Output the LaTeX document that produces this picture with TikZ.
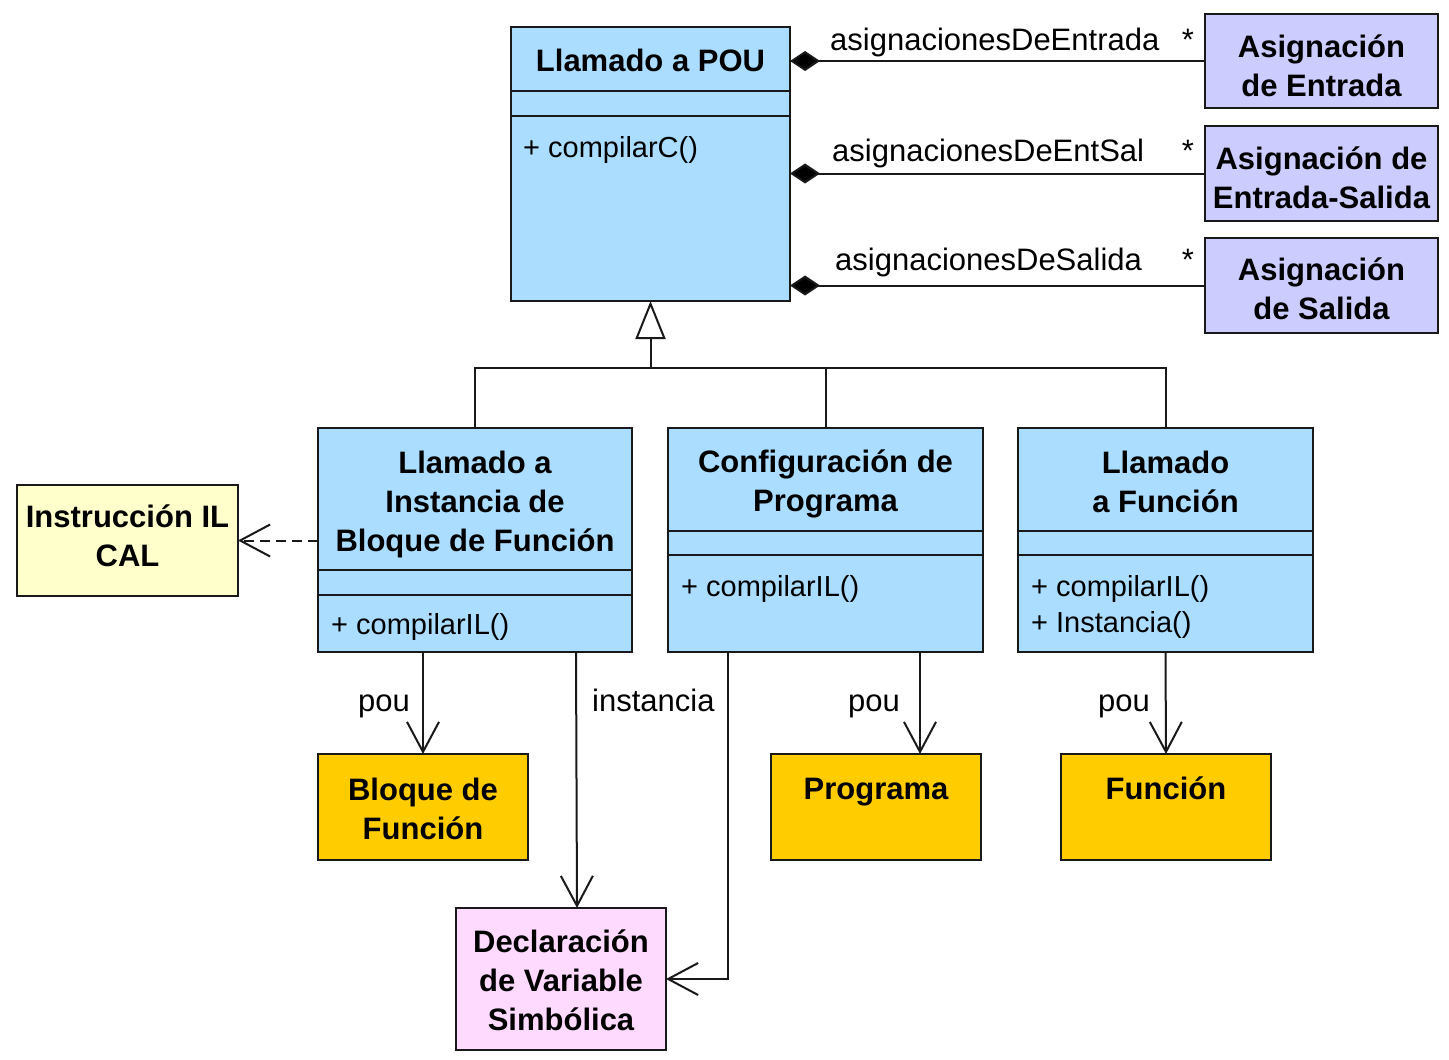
\documentclass[tikz,border=0pt]{standalone}
\usepackage{fontspec}
\setmainfont{Liberation Sans}
\usetikzlibrary{arrows.meta}
\definecolor{clsblue}{RGB}{170,221,255}
\definecolor{asgpurple}{RGB}{204,204,255}
\definecolor{ilyellow}{RGB}{255,255,204}
\definecolor{pouorange}{RGB}{255,204,0}
\definecolor{declpink}{RGB}{255,218,255}
\definecolor{edge}{RGB}{25,25,25}
\begin{document}
\begin{tikzpicture}[x=1pt,y=-1pt,
  box/.style={draw=edge, line width=2pt, inner sep=0pt, outer sep=0pt, anchor=north west},
  cls/.style={box, fill=clsblue},
  asg/.style={box, fill=asgpurple},
  ttl/.style={font=\fontsize{31}{39}\selectfont\bfseries, align=center, inner sep=0pt},
  lbl/.style={font=\fontsize{31}{37}\selectfont, inner sep=0pt, anchor=base west},
  mth/.style={font=\fontsize{29}{36}\selectfont, inner sep=0pt, anchor=base west},
  conn/.style={draw=edge, line width=2pt},
  comp/.style={conn, {Diamond[length=30pt,width=20pt,fill=black]}-},
  arr/.style={conn, -{Straight Barb[length=30pt,width=32pt]}},
  dep/.style={arr, dash pattern=on 10pt off 6pt},
  gen/.style={conn, -{Triangle[length=38pt,width=30pt,fill=white]}},
]
\useasboundingbox (0,0) rectangle (1449,1060);

% ---------- boxes ----------
\node[cls, minimum width=279pt, minimum height=274pt] (pou) at (511,27) {};
\node[asg, minimum width=233pt, minimum height=94pt] (ae) at (1205,14) {};
\node[asg, minimum width=233pt, minimum height=95pt] (aes) at (1205,126) {};
\node[asg, minimum width=233pt, minimum height=95pt] (as) at (1205,238) {};
\node[cls, minimum width=314pt, minimum height=224pt] (c1) at (318,428) {};
\node[cls, minimum width=315pt, minimum height=224pt] (c2) at (668,428) {};
\node[cls, minimum width=295pt, minimum height=224pt] (c3) at (1018,428) {};
\node[box, fill=ilyellow, minimum width=221pt, minimum height=111pt] (il) at (17,485) {};
\node[box, fill=pouorange, minimum width=210pt, minimum height=106pt] (bf) at (318,754) {};
\node[box, fill=pouorange, minimum width=210pt, minimum height=106pt] (prog) at (771,754) {};
\node[box, fill=pouorange, minimum width=210pt, minimum height=106pt] (fun) at (1061,754) {};
\node[box, fill=declpink, minimum width=210pt, minimum height=142pt] (decl) at (456,908) {};

% ---------- compartments ----------
\draw[conn] ([yshift=-64pt]pou.north west) -- ([yshift=-64pt]pou.north east);
\draw[conn] ([yshift=-89pt]pou.north west) -- ([yshift=-89pt]pou.north east);
\draw[conn] ([yshift=-142pt]c1.north west) -- ([yshift=-142pt]c1.north east);
\draw[conn] ([yshift=-167pt]c1.north west) -- ([yshift=-167pt]c1.north east);
\draw[conn] ([yshift=-103pt]c2.north west) -- ([yshift=-103pt]c2.north east);
\draw[conn] ([yshift=-127pt]c2.north west) -- ([yshift=-127pt]c2.north east);
\draw[conn] ([yshift=-103pt]c3.north west) -- ([yshift=-103pt]c3.north east);
\draw[conn] ([yshift=-127pt]c3.north west) -- ([yshift=-127pt]c3.north east);

% ---------- texts ----------
\node[ttl] (tpou) at (650.5,60.5) {Llamado a POU};
\node[mth] (mpou) at (523,157) {+ compilarC()};
\node[ttl] (tae) at (1321.5,66) {Asignación\\de Entrada};
\node[ttl] (taes) at (1321.5,177.5) {Asignación de\\Entrada-Salida};
\node[ttl] (tas) at (1321.5,289) {Asignación\\de Salida};
\node[ttl] (tc1) at (475,504.5) {Llamado a\\Instancia de\\Bloque de Función};
\node[mth] (mc1) at (331,634) {+ compilarIL()};
\node[ttl] (tc2) at (825.5,483.5) {Configuración de\\Programa};
\node[mth] (mc2) at (681,596) {+ compilarIL()};
\node[ttl] (tc3) at (1165.5,482) {Llamado\\a Función};
\node[mth] (mc3a) at (1031,596) {+ compilarIL()};
\node[mth] (mc3b) at (1031,632) {+ Instancia()};
\node[ttl] (til) at (127.5,536) {Instrucción IL\\CAL};
\node[ttl] (tbf) at (423,808.5) {Bloque de\\Función};
\node[ttl] (tprog) at (876,792) {Programa};
\node[ttl] (tfun) at (1166,788.5) {Función};
\node[ttl] (tdecl) at (561,980.5) {Declaración\\de Variable\\Simbólica};

% ---------- compositions ----------
\draw[comp] (ae.west -| pou.east) -- (ae.west);
\draw[comp] (aes.west -| pou.east) -- (aes.west);
\draw[comp] (as.west -| pou.east) -- (as.west);
\node[lbl] (l1) at (830,50) {asignacionesDeEntrada};
\node[lbl] (l2) at (832,161) {asignacionesDeEntSal};
\node[lbl] (l3) at (835,270) {asignacionesDeSalida};
\node[lbl, anchor=base] (s1) at (1188,50) {*};
\node[lbl, anchor=base] (s2) at (1188,161) {*};
\node[lbl, anchor=base] (s3) at (1188,270) {*};

% ---------- generalization ----------
\coordinate (bus) at ([yshift=-67pt]pou.south);
\draw[conn] (c1.north) |- (bus) -| (c3.north);
\draw[conn] (c2.north) -- (c2.north |- bus);
\draw[gen] (bus) -- (pou.south);

% ---------- dependency ----------
\draw[dep] (c1.west |- il.east) -- (il.east);

% ---------- associations ----------
\draw[arr] (bf.north |- c1.south) -- (bf.north);
\node[lbl, anchor=base east] (p1) at (410,711) {pou};
\draw[arr] ([xshift=101pt]c1.south) -- ([xshift=16pt]decl.north);
\node[lbl] (inst) at (592,711) {instancia};
\draw[arr] ([xshift=-97.5pt]c2.south) |- (decl.east);
\draw[arr] ([xshift=94.5pt]c2.south) -- ([xshift=44pt]prog.north);
\node[lbl, anchor=base east] (p2) at (900,711) {pou};
\draw[arr] (c3.south) -- (fun.north);
\node[lbl, anchor=base east] (p3) at (1150,711) {pou};
\end{tikzpicture}
\end{document}
